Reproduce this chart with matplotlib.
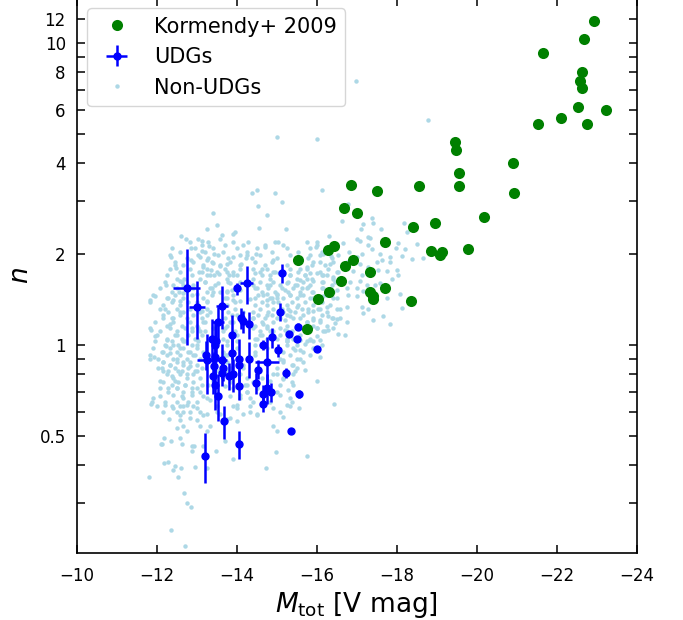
import numpy as np
import matplotlib.pyplot as plt
from matplotlib.ticker import NullFormatter

# Kormendy+ 2009 ellipticals
kormendy_M = [-22.93, -22.68, -21.65, -22.62, -22.58, -22.62, -22.53, -23.23, -22.09, -21.53,
              -22.74, -19.44, -19.48, -20.91, -19.55, -19.55, -18.56, -16.84, -17.49, -20.93,
              -16.68, -17.01, -20.18, -18.95, -18.39, -17.70, -16.43, -16.27, -18.85, -19.12,
              -19.08, -19.78, -15.53, -16.91, -16.71, -16.60, -17.33, -17.70, -16.29, -16.02,
              -17.33, -17.41, -17.41, -18.34, -15.74]
kormendy_n = [11.86, 10.28, 9.25, 8.02, 7.50, 7.11, 6.12, 6.00, 5.66, 5.38,
              5.38, 4.71, 4.43, 4.01, 3.70, 3.36, 3.37, 3.39, 3.23, 3.18,
              2.84, 2.74, 2.65, 2.54, 2.46, 2.20, 2.13, 2.06, 2.05, 2.03,
              1.99, 2.08, 1.91, 1.92, 1.83, 1.63, 1.74, 1.55, 1.50, 1.42,
              1.50, 1.45, 1.42, 1.40, 1.13]

# UDGs (magnitude, Sersic index and their errors)
udg_M = [-12.74, -12.99, -13.63, -14.24, -13.99, -15.13, -15.08, -14.10, -14.16, -14.30,
         -13.53, -13.87, -13.37, -13.24, -13.23, -13.45, -13.45, -13.43, -13.45, -13.53,
         -13.62, -13.62, -13.68, -13.87, -13.80, -13.91, -14.06, -14.06, -14.06, -14.06,
         -14.30, -14.53, -14.48, -14.66, -14.66, -14.76, -14.85, -14.74, -15.23, -15.55,
         -15.34, -13.19, -14.64, -14.88, -15.03, -15.31, -15.52, -15.51, -15.99, -13.47,
         -13.40, -13.65]
udg_n = [1.54, 1.34, 1.35, 1.60, 1.54, 1.73, 1.29, 1.23, 1.20, 1.17,
         1.19, 1.08, 1.05, 0.89, 0.93, 1.00, 0.91, 0.85, 0.74, 0.68,
         0.89, 0.81, 0.56, 0.94, 0.79, 0.80, 0.90, 0.86, 0.73, 0.47,
         0.90, 0.83, 0.75, 0.69, 0.64, 0.72, 0.70, 0.88, 0.81, 0.69,
         0.52, 0.43, 1.00, 1.06, 0.96, 1.09, 1.15, 1.05, 0.97, 1.03,
         0.79, 0.84]
udg_M_err = [0.33, 0.20, 0.15, 0.16, 0.03, 0.03, 0.03, 0.03, 0.03, 0.03,
             0.15, 0.03, 0.03, 0.23, 0.03, 0.03, 0.03, 0.03, 0.03, 0.03,
             0.12, 0.03, 0.03, 0.03, 0.03, 0.03, 0.03, 0.03, 0.03, 0.03,
             0.03, 0.03, 0.03, 0.03, 0.03, 0.03, 0.03, 0.30, 0.03, 0.03,
             0.03, 0.03, 0.03, 0.03, 0.03, 0.03, 0.03, 0.03, 0.03, 0.03,
             0.03, 0.03]
udg_n_err = [0.54, 0.29, 0.22, 0.23, 0.07, 0.12, 0.09, 0.10, 0.10, 0.12,
             0.15, 0.18, 0.17, 0.20, 0.10, 0.20, 0.08, 0.10, 0.13, 0.12,
             0.12, 0.08, 0.07, 0.12, 0.08, 0.10, 0.15, 0.06, 0.07, 0.05,
             0.12, 0.06, 0.06, 0.05, 0.04, 0.08, 0.05, 0.18, 0.03, 0.02,
             0.01, 0.08, 0.04, 0.08, 0.05, 0.02, 0.03, 0.02, 0.01, 0.15,
             0.10, 0.08]

# non-UDG dwarfs, outer parts of the distribution
non_udg_M = [
    -14.37, -14.49, -14.95, -14.53, -14.74, -13.39, -13.49, -13.24, -14.56, -12.60,
    -12.73, -13.02, -13.12, -13.30, -12.85, -13.58, -13.62, -13.89, -13.95, -13.12,
    -13.43, -12.35, -12.45, -12.48, -12.85, -13.08, -13.26, -13.15, -13.41, -13.58,
    -13.76, -13.91, -14.26, -14.23, -14.48, -14.71, -14.90, -15.03, -14.11, -14.08,
    -14.01, -13.81, -13.74, -13.55, -13.43, -13.35, -13.24, -13.05, -12.68, -12.58,
    -12.64, -12.23, -12.54, -12.66, -12.91, -12.99, -13.39, -13.58, -13.74, -13.87,
    -14.08, -14.33, -14.49, -14.53, -14.74, -14.83, -14.95, -15.06, -14.83, -14.99,
    -14.99, -11.95, -11.83, -12.28, -12.41, -12.58, -12.99, -13.24, -13.74, -13.91,
    -14.08, -14.33, -14.74, -14.87, -15.03, -13.20, -13.33, -13.53, -13.83, -14.08,
    -14.45, -14.62,
    -16.12, -15.12, -15.23, -16.77, -16.62, -17.16, -17.09, -17.37, -17.41, -17.60,
    -16.31, -16.99, -17.08, -17.28, -17.33, -16.66, -15.99, -15.98, -15.83, -16.16,
    -16.34, -16.41, -16.53, -16.80, -17.01, -17.12, -16.74, -17.28, -17.37, -17.58,
    -18.03, -17.98, -18.20, -18.49, -18.18, -18.24, -17.83, -17.83, -18.12, -18.37,
    -18.66, -17.62, -17.49, -17.28, -17.08, -16.33, -16.08, -15.87, -15.74, -15.58,
    -15.70, -15.83, -15.99, -16.12, -16.24, -16.41, -16.53, -16.91, -17.12, -17.53,
    -17.74, -18.01, -18.03, -17.87, -17.58, -17.08, -16.83, -16.45, -16.16, -15.91,
    -15.74, -15.58, -15.45, -15.33, -15.24, -15.62, -15.78, -15.91, -16.12, -16.49,
    -16.74, -16.99, -17.24, -17.45, -15.91, -15.58, -15.33, -15.20, -16.16, -16.41,
    -16.78, -16.99, -17.74, -18.08, -17.16,
    -11.84, -11.95, -11.83, -11.93, -12.12, -12.23, -12.16, -12.08, -12.33, -12.28,
    -11.91, -11.84, -11.99, -12.31, -12.16, -12.49, -12.58, -12.66, -12.78, -12.62,
    -12.49, -12.70, -12.87, -12.99, -12.91, -13.08, -12.99, -13.24, -12.83, -12.66,
    -12.74, -12.33, -12.41, -12.58, -12.16, -12.20, -12.49, -12.66, -12.58, -12.78,
    -12.95, -12.49, -12.66, -12.83, -12.99, -12.74, -12.53, -12.37, -12.45, -12.99,
    -13.08, -12.87, -13.20, -13.33, -13.12, -13.41, -13.66, -13.74, -13.83, -13.99,
    -14.16, -14.41, -14.66, -14.83, -14.99, -14.49, -14.62, -14.74, -14.99, -13.74,
    -13.83, -14.08, -13.70, -13.83, -13.91, -14.08, -14.24, -14.49, -14.66, -14.83,
    -14.99, -14.33, -14.91, -14.49, -14.16, -13.49, -13.33, -13.58, -13.74, -13.33,
    -13.16, -13.41, -13.28, -13.53, -14.49, -14.83, -14.99, -14.62, -14.24, -12.58,
    -12.37, -12.20, -12.08, -12.49, -13.08, -13.24, -13.99, -12.16, -12.03, -12.24,
    -12.99, -13.16, -12.41, -12.33,
    -15.12, -15.33, -15.49, -15.78, -15.91, -16.08, -16.24, -16.58, -16.74, -17.12,
    -17.28, -17.16, -17.66, -17.41, -17.83, -18.12, -16.58, -16.41, -16.28, -16.08,
    -15.91, -15.74, -15.58, -15.33, -15.20, -16.74, -16.45, -16.49, -16.70, -16.53,
    -16.28, -16.16, -15.99, -16.08, -15.91, -15.99, -15.83, -15.70, -15.58, -15.41,
    -15.24, -15.20, -15.37, -15.24, -15.45, -15.58, -15.16, -15.49, -16.08, -15.37,
    -15.70, -15.45, -15.16, -15.41, -15.99, -15.37, -15.33, -15.55, -16.43, -15.14,
    -15.28,
    -12.18, -12.12, -12.10, -12.35, -12.58, -12.62, -12.87, -12.93, -12.87, -13.14,
    -12.18, -12.27, -12.45, -12.59, -12.41, -12.52, -11.80, -12.95, -13.24, -13.47,
    -13.70, -13.89, -14.73, -14.98, -12.68, -12.76, -12.84, -12.35, -12.70,
    -16.98, -18.78, -16.00, -15.01, -15.74, -14.99,
]
non_udg_n = [
    3.20, 3.26, 3.18, 2.89, 2.70, 2.73, 2.50, 2.42, 2.45, 2.30,
    2.24, 2.24, 2.21, 2.13, 2.10, 2.24, 2.31, 2.34, 2.36, 2.05,
    2.01, 1.95, 1.84, 1.80, 1.92, 1.96, 1.91, 1.82, 1.87, 1.83,
    1.85, 1.96, 1.99, 1.94, 2.01, 2.11, 1.92, 2.20, 1.85, 1.78,
    1.71, 1.71, 1.74, 1.72, 1.71, 1.77, 1.70, 1.75, 1.66, 1.63,
    1.58, 1.58, 1.50, 1.49, 1.54, 1.48, 1.50, 1.50, 1.51, 1.52,
    1.62, 1.60, 1.54, 1.46, 1.48, 1.71, 1.75, 1.73, 1.58, 1.48,
    1.43, 1.45, 1.41, 1.43, 1.41, 1.40, 1.39, 1.40, 1.43, 1.41,
    1.40, 1.42, 1.41, 1.43, 1.39, 1.62, 1.54, 1.60, 1.60, 1.52,
    1.73, 1.79,
    3.26, 2.97, 2.43, 2.94, 2.58, 2.51, 2.42, 2.63, 2.54, 2.43,
    2.30, 2.24, 2.21, 2.28, 2.26, 2.17, 2.20, 2.12, 1.98, 2.00,
    1.97, 2.08, 1.99, 2.03, 1.96, 2.00, 1.88, 2.14, 2.08, 2.01,
    2.17, 2.09, 2.08, 2.16, 2.53, 2.36, 1.95, 1.88, 1.97, 1.93,
    1.94, 1.91, 1.88, 1.82, 1.85, 1.86, 1.89, 1.84, 1.82, 1.78,
    1.71, 1.73, 1.73, 1.71, 1.71, 1.68, 1.75, 1.76, 1.71, 1.77,
    1.76, 1.77, 1.71, 1.66, 1.61, 1.63, 1.62, 1.62, 1.62, 1.63,
    1.66, 1.64, 1.58, 1.71, 1.60, 1.54, 1.56, 1.50, 1.54, 1.52,
    1.54, 1.54, 1.58, 1.58, 1.43, 1.46, 1.46, 1.52, 1.45, 1.43,
    1.47, 1.45, 1.43, 1.48, 1.51,
    1.12, 1.07, 0.90, 0.91, 0.95, 0.99, 0.82, 0.76, 0.86, 0.72,
    0.67, 0.64, 0.63, 0.57, 0.60, 0.53, 0.565, 0.63, 0.65, 0.68,
    0.72, 0.74, 0.70, 0.72, 0.63, 0.60, 0.565, 0.59, 0.60, 0.54,
    0.52, 1.17, 1.23, 1.29, 1.23, 1.32, 1.08, 1.03, 0.975, 0.95,
    0.93, 0.90, 0.88, 0.85, 0.82, 0.80, 0.82, 0.79, 0.76, 1.05,
    1.11, 1.14, 1.19, 1.29, 1.30, 1.14, 1.11, 1.03, 1.19, 1.26,
    1.29, 1.23, 1.17, 1.11, 1.23, 1.05, 1.08, 1.26, 1.05, 0.93,
    0.84, 0.80, 0.73, 0.68, 0.63, 0.67, 0.70, 0.72, 0.68, 0.65,
    0.70, 0.63, 0.54, 0.59, 0.59, 0.63, 0.66, 0.59, 0.57, 0.54,
    0.68, 0.76, 0.74, 0.82, 0.82, 0.76, 0.80, 0.78, 0.74, 0.63,
    0.63, 0.65, 0.68, 0.60, 0.54, 0.52, 0.56, 0.88, 0.84, 1.04,
    1.00, 0.95, 1.00, 0.94,
    1.32, 1.30, 1.34, 1.32, 1.30, 1.32, 1.34, 1.32, 1.34, 1.34,
    1.32, 1.28, 1.25, 1.21, 1.17, 1.33, 1.23, 1.23, 1.25, 1.21,
    1.21, 1.19, 1.23, 1.25, 1.21, 1.19, 1.18, 1.22, 1.08, 1.09,
    1.12, 1.11, 1.14, 1.04, 1.03, 1.07, 1.04, 1.01, 1.04, 1.05,
    1.03, 1.12, 1.11, 1.00, 0.965, 0.965, 0.89, 0.90, 0.915, 0.86,
    0.83, 0.82, 0.77, 0.74, 0.76, 0.65, 0.63, 0.62, 0.64, 0.58,
    0.71,
    0.493, 0.472, 0.469, 0.482, 0.493, 0.472, 0.464, 0.464, 0.446, 0.464,
    0.406, 0.411, 0.398, 0.393, 0.385, 0.365, 0.366, 0.396, 0.391, 0.446,
    0.482, 0.419, 0.393, 0.443, 0.323, 0.301, 0.291, 0.245, 0.216,
    7.48, 5.57, 4.80, 4.90, 0.43, 0.52,
]

# non-UDG dwarfs in the crowded core, one line per band in n
core_M = [
    -12.83, -13.12, -13.28, -13.70, -13.91, -14.16, -14.28, -14.70, -14.95, -15.16, -15.74, -15.99,
    -12.37, -12.58, -12.95, -13.20, -13.41, -13.66, -13.99, -14.24, -14.49, -14.87, -15.24, -15.53, -15.83, -16.12,
    -12.33, -12.74, -13.03, -13.28, -13.53, -13.78, -14.08, -14.37, -14.58, -14.99, -15.33, -15.78, -16.08, -16.37,
    -12.45, -12.66, -12.91, -13.16, -13.37, -13.58, -13.83, -14.08, -14.45, -14.70, -14.87, -15.24, -15.91, -16.20, -16.41,
    -12.33, -12.58, -12.83, -13.12, -13.24, -13.49, -13.70, -13.91, -14.41, -14.58, -14.74, -14.91, -15.33, -15.53, -15.74, -16.08, -16.28, -16.49,
    -12.24, -12.49, -12.87, -13.08, -13.33, -13.74, -13.91, -14.41, -14.62, -14.83, -15.33, -15.49, -15.70, -15.87, -16.16, -16.41,
    -12.20, -12.41, -12.62, -12.91, -13.20, -13.45, -13.78, -14.41, -14.58, -14.74, -14.91, -15.08, -15.28, -15.49, -15.66, -15.83, -16.12, -16.37,
    -12.08, -12.37, -12.49, -13.24, -13.37, -13.74, -14.45, -14.62, -14.78, -14.95, -15.12, -15.28, -15.41, -15.58, -15.74, -15.87, -16.16, -16.41,
    -11.91, -12.24, -12.45, -12.66, -12.87, -13.16, -13.37, -13.70, -13.91, -14.45, -14.66, -14.83, -14.99, -15.16, -15.33, -15.49, -15.66, -15.83, -16.24, -16.49,
    -11.83, -12.16, -12.37, -12.58, -12.78, -13.03, -13.24, -13.74, -13.95, -14.45, -14.62, -14.74, -14.91, -15.24, -15.37, -15.53, -15.70, -15.91, -16.12, -16.33,
    -12.08, -12.28, -12.49, -12.66, -12.83, -13.08, -13.24, -13.78, -13.95, -14.41, -14.58, -14.78, -14.91, -15.16, -15.28, -15.45, -15.62, -15.78, -16.03, -16.24, -16.49,
    -12.16, -12.37, -12.58, -12.74, -12.91, -13.12, -13.24, -13.70, -13.87, -14.41, -14.53, -14.70, -14.87, -15.08, -15.24, -15.41, -15.66, -15.91, -16.12, -16.37,
    -11.95, -12.24, -12.41, -12.62, -12.83, -12.99, -13.16, -13.74, -13.91, -14.45, -14.62, -14.74, -14.91, -15.24, -15.74, -15.91, -16.08, -16.24,
    -11.83, -12.08, -12.33, -12.49, -12.70, -12.87, -13.03, -13.20, -13.70, -13.95, -14.41, -14.58, -14.74, -14.91, -15.08, -15.24, -15.99, -16.20, -16.41,
    -11.99, -12.24, -12.45, -12.62, -12.78, -12.95, -13.12, -13.66, -13.99, -14.45, -14.58, -14.74, -15.08, -15.24, -15.58, -15.83,
    -11.95, -12.20, -12.37, -12.53, -12.70, -12.87, -13.03, -13.74, -13.99, -14.45, -15.24, -15.49, -15.74, -16.12,
    -11.91, -12.16, -12.33, -12.49, -12.66, -12.83, -12.99, -13.66, -13.99, -14.45, -14.74, -15.16, -15.41, -15.66, -15.91,
    -11.83, -12.03, -12.24, -12.41, -12.58, -12.74, -12.91, -13.08, -13.70, -13.99, -14.45, -15.08, -15.33, -15.58, -15.83,
    -12.16, -12.33, -12.49, -12.66, -12.83, -12.99, -13.74, -14.16, -15.16, -15.41, -15.66,
    -12.12, -12.28, -12.45, -12.62, -12.78, -12.95, -13.12, -13.78, -14.16, -14.58, -14.99, -15.24, -15.49,
    -12.24, -12.41, -12.58, -12.74, -12.91, -13.08, -13.66, -14.24, -14.91, -15.16, -15.41,
    -12.16, -12.37, -12.53, -12.70, -12.91, -13.12, -13.83, -14.20, -14.41, -15.08, -15.37,
    -12.08, -12.28, -12.49, -12.66, -12.87, -13.08, -13.91, -14.24, -14.49, -14.91,
    -12.41, -12.66, -12.87, -13.24, -14.08, -14.33, -15.08, -15.33,
    -11.87, -12.20, -12.49, -12.74, -12.99, -13.99, -14.41, -15.24,
    -12.41, -12.66, -12.99, -13.49, -13.99, -14.33, -14.91, -15.08,
    -12.58, -12.83, -13.16, -13.83, -14.49,
]
core_n = [
    2.20, 2.14, 2.20, 2.14, 2.20, 2.14, 2.20, 2.14, 2.20, 2.14, 2.20, 2.14,
    2.09, 2.04, 2.09, 2.04, 2.09, 2.04, 2.09, 2.04, 2.09, 2.04, 2.09, 2.04, 2.09, 2.04,
    1.99, 1.94, 1.99, 1.94, 1.99, 1.94, 1.99, 1.94, 1.99, 1.94, 1.99, 1.94, 1.99, 1.94,
    1.89, 1.84, 1.89, 1.84, 1.89, 1.84, 1.89, 1.84, 1.89, 1.84, 1.89, 1.84, 1.89, 1.84, 1.89,
    1.79, 1.75, 1.79, 1.75, 1.79, 1.75, 1.79, 1.75, 1.79, 1.75, 1.79, 1.75, 1.79, 1.75, 1.79, 1.75, 1.79, 1.75,
    1.71, 1.66, 1.71, 1.66, 1.71, 1.66, 1.71, 1.66, 1.71, 1.66, 1.71, 1.66, 1.71, 1.66, 1.71, 1.66,
    1.62, 1.58, 1.62, 1.58, 1.62, 1.58, 1.62, 1.58, 1.62, 1.58, 1.62, 1.58, 1.62, 1.58, 1.62, 1.58, 1.62, 1.58,
    1.54, 1.50, 1.54, 1.50, 1.54, 1.50, 1.54, 1.50, 1.54, 1.50, 1.54, 1.50, 1.54, 1.50, 1.54, 1.50, 1.54, 1.50,
    1.46, 1.43, 1.46, 1.43, 1.46, 1.43, 1.46, 1.43, 1.46, 1.43, 1.46, 1.43, 1.46, 1.43, 1.46, 1.43, 1.46, 1.43, 1.46, 1.43,
    1.39, 1.36, 1.39, 1.36, 1.39, 1.36, 1.39, 1.36, 1.39, 1.36, 1.39, 1.36, 1.39, 1.36, 1.39, 1.36, 1.39, 1.36, 1.39, 1.36,
    1.32, 1.29, 1.32, 1.29, 1.32, 1.29, 1.32, 1.29, 1.32, 1.29, 1.32, 1.29, 1.32, 1.29, 1.32, 1.29, 1.32, 1.29, 1.32, 1.29, 1.32,
    1.26, 1.23, 1.26, 1.23, 1.26, 1.23, 1.26, 1.23, 1.26, 1.23, 1.26, 1.23, 1.26, 1.23, 1.26, 1.23, 1.26, 1.23, 1.26, 1.23,
    1.19, 1.16, 1.19, 1.16, 1.19, 1.16, 1.19, 1.16, 1.19, 1.16, 1.19, 1.16, 1.19, 1.16, 1.19, 1.16, 1.19, 1.16,
    1.14, 1.11, 1.14, 1.11, 1.14, 1.11, 1.14, 1.11, 1.14, 1.11, 1.14, 1.11, 1.14, 1.11, 1.14, 1.11, 1.14, 1.11, 1.14,
    1.08, 1.05, 1.08, 1.05, 1.08, 1.05, 1.08, 1.05, 1.08, 1.05, 1.08, 1.05, 1.08, 1.05, 1.08, 1.05,
    1.03, 1.00, 1.03, 1.00, 1.03, 1.00, 1.03, 1.00, 1.03, 1.00, 1.03, 1.00, 1.03, 1.00,
    0.975, 0.95, 0.975, 0.95, 0.975, 0.95, 0.975, 0.95, 0.975, 0.95, 0.975, 0.95, 0.975, 0.95, 0.975,
    0.93, 0.90, 0.93, 0.90, 0.93, 0.90, 0.93, 0.90, 0.93, 0.90, 0.93, 0.90, 0.93, 0.90, 0.93,
    0.88, 0.86, 0.88, 0.86, 0.88, 0.86, 0.88, 0.86, 0.88, 0.86, 0.88,
    0.84, 0.82, 0.84, 0.82, 0.84, 0.82, 0.84, 0.82, 0.84, 0.82, 0.84, 0.82, 0.84,
    0.80, 0.78, 0.80, 0.78, 0.80, 0.78, 0.80, 0.78, 0.80, 0.78, 0.80,
    0.756, 0.737, 0.756, 0.737, 0.756, 0.737, 0.756, 0.737, 0.756, 0.737, 0.756,
    0.719, 0.70, 0.719, 0.70, 0.719, 0.70, 0.719, 0.70, 0.719, 0.70,
    0.683, 0.666, 0.683, 0.666, 0.683, 0.666, 0.683, 0.666,
    0.649, 0.633, 0.649, 0.633, 0.649, 0.633, 0.649, 0.633,
    0.617, 0.602, 0.617, 0.602, 0.617, 0.602, 0.617, 0.602,
    0.586, 0.572, 0.586, 0.572, 0.586,
]

fig = plt.figure(figsize=(6.83, 6.2), dpi=100)
ax = fig.add_axes([0.1127, 0.1081, 0.8199, 0.8952])

all_M = non_udg_M + core_M
all_n = non_udg_n + core_n
h_non, = ax.plot(all_M, all_n, 'o', color='lightblue', ms=3.2, mec='none',
                 label='Non-UDGs', zorder=1)
h_udg = ax.errorbar(udg_M, udg_n, xerr=udg_M_err, yerr=udg_n_err, fmt='o', color='blue',
                    ms=5, elinewidth=1.8, capsize=0, label='UDGs', zorder=2)
h_k, = ax.plot(kormendy_M, kormendy_n, 'o', color='green', ms=8, mec='none',
               label='Kormendy+ 2009', zorder=3)

ax.set_yscale('log')
ax.set_xlim(-10, -24)
ax.set_ylim(0.205, 14.1)
ax.set_xticks(np.arange(-10, -25, -2))
ax.set_yticks([0.5, 1, 2, 4, 6, 8, 10, 12])
ax.set_yticklabels(['0.5', '1', '2', '4', '6', '8', '10', '12'])
ax.set_yticks([0.3, 0.4, 0.6, 0.7, 0.8, 0.9, 3, 5, 7, 9], minor=True)
ax.yaxis.set_minor_formatter(NullFormatter())
ax.tick_params(which='both', direction='in', top=True, right=True, length=6, width=1.1,
               labelsize=12)
ax.tick_params(axis='x', pad=10)
ax.tick_params(axis='y', pad=8)
for s in ax.spines.values():
    s.set_linewidth(1.2)

ax.set_xlabel(r'$M_{\rm tot}$ [V mag]', fontsize=19)
ax.set_ylabel(r'$n$', fontsize=19)

ax.legend(handles=[h_k, h_udg, h_non], loc='upper left', fontsize=15)

fig.savefig('out.png', dpi=100)
